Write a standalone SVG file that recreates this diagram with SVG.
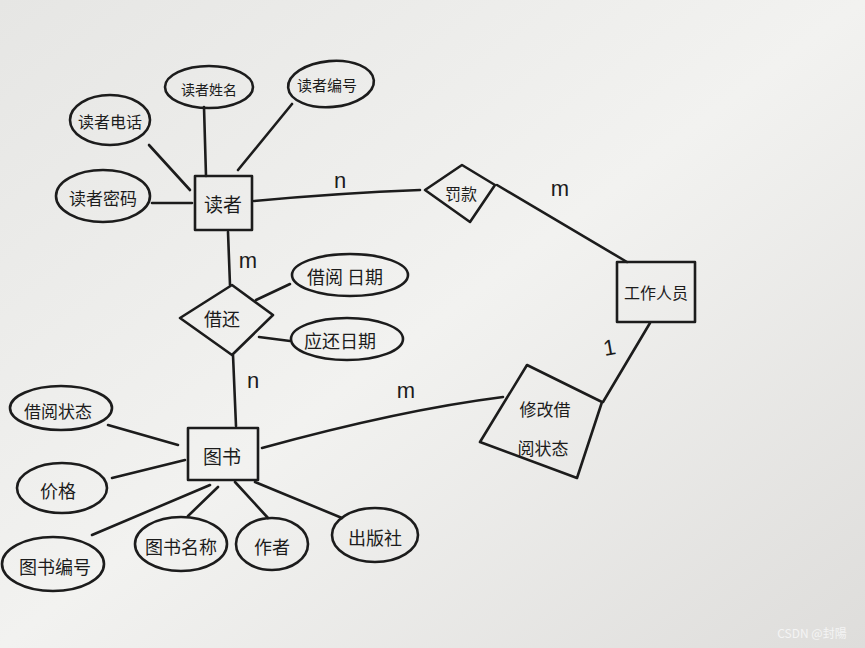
<svg xmlns="http://www.w3.org/2000/svg" width="865" height="648" viewBox="0 0 865 648">
<defs>
<linearGradient id="paper" x1="0" y1="0" x2="1" y2="1">
<stop offset="0" stop-color="#e6e6e4"/>
<stop offset="0.5" stop-color="#f2f2f0"/>
<stop offset="1" stop-color="#dedddb"/>
</linearGradient>
<style>
.s{fill:none;stroke:#1c1c1c;stroke-width:2.6;stroke-linecap:round;stroke-linejoin:round}
.t{font-family:"Noto Sans CJK SC","Noto Sans",sans-serif;font-size:17px;fill:#1c1c1c;text-anchor:middle;dominant-baseline:central}
.c{font-family:"Liberation Sans","Noto Sans",sans-serif;font-size:22px;fill:#1c1c1c;text-anchor:middle}
</style>
</defs>
<rect x="0" y="0" width="865" height="648" fill="url(#paper)"/>
<g id="connectors" class="s">
<line x1="204" y1="107" x2="206" y2="176"/>
<line x1="292" y1="104" x2="238" y2="170"/>
<line x1="149" y1="145" x2="190" y2="190"/>
<line x1="152" y1="203" x2="192" y2="203"/>
<path d="M254 201 Q340 193 420 190"/>
<line x1="497" y1="185" x2="627" y2="262"/>
<line x1="228" y1="232" x2="230" y2="285"/>
<line x1="256" y1="300" x2="290" y2="284"/>
<line x1="259" y1="337" x2="290" y2="341"/>
<line x1="233" y1="355" x2="236" y2="426"/>
<path d="M262 448 Q400 410 503 397"/>
<line x1="603" y1="402" x2="650" y2="323"/>
<line x1="108" y1="425" x2="178" y2="445"/>
<line x1="112" y1="478" x2="185" y2="460"/>
<line x1="92" y1="535" x2="210" y2="485"/>
<line x1="188" y1="516" x2="218" y2="487"/>
<line x1="268" y1="518" x2="235" y2="482"/>
<line x1="342" y1="518" x2="255" y2="482"/>
</g>
<g id="labels">
<text class="c" x="340" y="188">n</text>
<text class="c" x="560" y="196">m</text>
<text class="c" x="248" y="268">m</text>
<text class="c" x="253" y="388">n</text>
<text class="c" x="406" y="398">m</text>
<text class="c" x="609" y="355" transform="rotate(-10 609 345)">1</text>
</g>
<g id="reader"><rect class="s" x="195" y="176" width="57" height="54"/><text class="t" x="223" y="203" style="font-size:19px">读者</text></g>
<g id="reader-name"><ellipse class="s" cx="209" cy="87" rx="44" ry="21"/><text class="t" x="209" y="89" style="font-size:14px">读者姓名</text></g>
<g id="reader-no"><ellipse class="s" cx="331" cy="84" rx="43" ry="23" transform="rotate(-5 331 84)"/><text class="t" x="327" y="84" style="font-size:15px">读者编号</text></g>
<g id="reader-tel"><ellipse class="s" cx="110" cy="120" rx="40" ry="25"/><text class="t" x="110" y="121" style="font-size:16px">读者电话</text></g>
<g id="reader-pwd"><ellipse class="s" cx="103" cy="196" rx="47" ry="26"/><text class="t" x="103" y="197" style="font-size:17px">读者密码</text></g>
<g id="fine"><polygon class="s" points="425,190 462,165 495,185 470,222"/><text class="t" x="461" y="193" style="font-size:16px">罚款</text></g>
<g id="staff"><rect class="s" x="617" y="262" width="78" height="60"/><text class="t" x="656" y="292" style="font-size:16px">工作人员</text></g>
<g id="borrow"><polygon class="s" points="180,318 232,285 273,315 232,355"/><text class="t" x="222" y="318" style="font-size:18px">借还</text></g>
<g id="borrow-date"><ellipse class="s" cx="350" cy="275" rx="58" ry="21"/><text class="t" x="345" y="276" style="font-size:18px">借阅 日期</text></g>
<g id="due-date"><ellipse class="s" cx="347" cy="339" rx="56" ry="21"/><text class="t" x="340" y="340" style="font-size:18px">应还日期</text></g>
<g id="modify-status"><polygon class="s" points="527,365 602,402 577,478 480,442"/><text class="t" x="545" y="408" style="font-size:17px">修改借</text><text class="t" x="543" y="447" style="font-size:17px">阅状态</text></g>
<g id="book"><rect class="s" x="188" y="428" width="70" height="52"/><text class="t" x="222" y="455" style="font-size:19px">图书</text></g>
<g id="book-status"><ellipse class="s" cx="61" cy="408" rx="51" ry="22"/><text class="t" x="58" y="410" style="font-size:17px">借阅状态</text></g>
<g id="price"><ellipse class="s" cx="62" cy="488" rx="45" ry="25"/><text class="t" x="58" y="490" style="font-size:18px">价格</text></g>
<g id="book-no"><ellipse class="s" cx="53" cy="564" rx="51" ry="27"/><text class="t" x="55" y="566" style="font-size:18px">图书编号</text></g>
<g id="book-name"><ellipse class="s" cx="181" cy="544" rx="46" ry="27"/><text class="t" x="181" y="546" style="font-size:18px">图书名称</text></g>
<g id="author"><ellipse class="s" cx="272" cy="544" rx="36" ry="26"/><text class="t" x="272" y="546" style="font-size:18px">作者</text></g>
<g id="publisher"><ellipse class="s" cx="375" cy="535" rx="43" ry="27"/><text class="t" x="375" y="537" style="font-size:18px">出版社</text></g>
<text x="812" y="638" style="font-family:'Noto Sans CJK SC','Noto Sans',sans-serif;font-size:12px;fill:#f4f4f4;text-anchor:middle">CSDN @封陽</text>
</svg>
